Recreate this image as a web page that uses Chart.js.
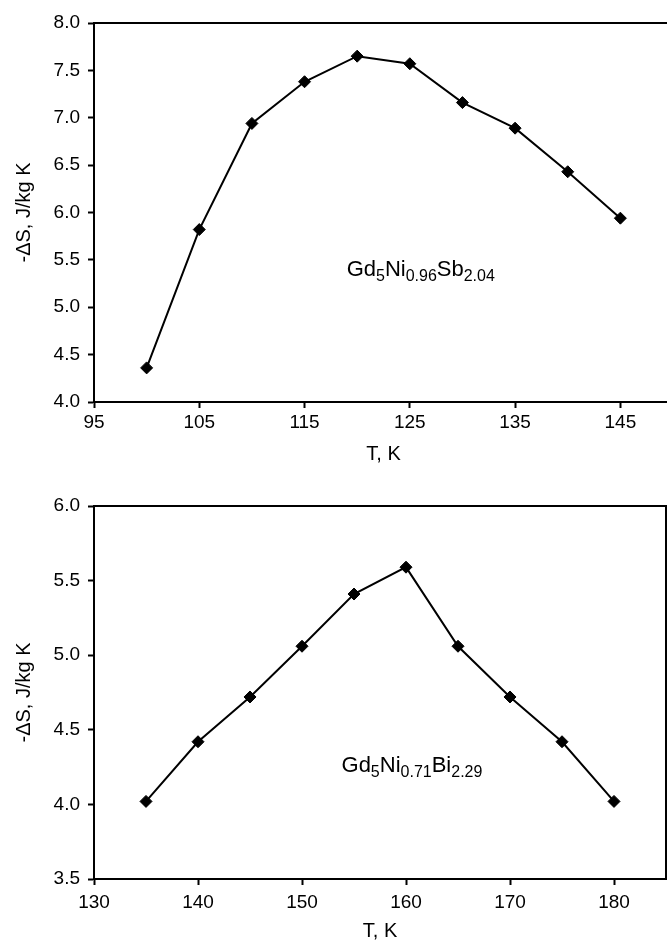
<!DOCTYPE html>
<html>
<head>
<meta charset="utf-8">
<script src="https://cdn.jsdelivr.net/npm/chart.js@4.4.1/dist/chart.umd.min.js"></script>
<style>
    html, body {margin: 0; padding: 0; background: #fff; overflow: hidden;}
    .box {width: 667px; overflow: hidden; position: relative;}
    canvas {display: block;}
</style>
</head>
<body>
<div class="box" style="height: 470px;"><canvas id="chartSb" width="674" height="470"></canvas></div>
<div class="box" style="height: 473px;"><canvas id="chartBi" width="667" height="473"></canvas></div>
<script>
// Gd5Ni0.96Sb2.04
const tempSb = [100, 105, 110, 115, 120, 125, 130, 135, 140, 145];
const entropySb = [4.36, 5.82, 6.94, 7.38, 7.65, 7.57, 7.16, 6.89, 6.43, 5.94];
const xTicksSb = [95, 105, 115, 125, 135, 145];
const labelSb = [['Gd', false], ['5', true], ['Ni', false], ['0.96', true], ['Sb', false], ['2.04', true]];

// Gd5Ni0.71Bi2.29
const tempBi = [135, 140, 145, 150, 155, 160, 165, 170, 175, 180];
const entropyBi = [4.02, 4.42, 4.72, 5.06, 5.41, 5.59, 5.06, 4.72, 4.42, 4.02];
const xTicksBi = [130, 140, 150, 160, 170, 180];
const labelBi = [['Gd', false], ['5', true], ['Ni', false], ['0.71', true], ['Bi', false], ['2.29', true]];

const FONT = '"Liberation Sans", Arial, Helvetica, sans-serif';

// box line on top and right of plot area
const frame = {
    id: 'frame',
    afterDraw(chart) {
        const a = chart.chartArea, c = chart.ctx;
        c.save();
        c.strokeStyle = '#000';
        c.lineWidth = 2;
        c.beginPath();
        c.moveTo(a.left, a.top);
        c.lineTo(a.right, a.top);
        c.lineTo(a.right, a.bottom);
        c.stroke();
        c.restore();
    }
};

// formula text with subscripts, placed in data units
const formula = {
    id: 'formula',
    afterDraw(chart, args, opts) {
        const c = chart.ctx;
        let x = chart.scales.x.getPixelForValue(opts.x);
        const y = chart.scales.y.getPixelForValue(opts.y);
        c.save();
        c.fillStyle = '#000';
        c.textBaseline = 'alphabetic';
        c.textAlign = 'left';
        opts.parts.forEach(function (p) {
            c.font = (p[1] ? '16px ' : '22px ') + FONT;
            c.fillText(p[0], x, p[1] ? y + 5 : y);
            x += c.measureText(p[0]).width;
        });
        c.restore();
    }
};

function makeChart(id, temps, vals, ticks, cfg) {
    const pts = temps.map(function (t, i) { return {x: t, y: vals[i]}; });
    return new Chart(document.getElementById(id), {
        type: 'line',
        data: {
            datasets: [{
                data: pts,
                borderColor: '#000',
                backgroundColor: '#000',
                borderWidth: 2,
                pointStyle: 'rectRot',
                pointRadius: 6,
                pointBorderWidth: 1,
                pointBackgroundColor: '#000',
                pointBorderColor: '#000',
                tension: 0
            }]
        },
        options: {
            responsive: false,
            animation: false,
            layout: {autoPadding: false, padding: {top: cfg.padTop, right: 1, left: 0, bottom: 0}},
            plugins: {
                legend: {display: false},
                tooltip: {enabled: false},
                formula: {x: cfg.labelX, y: cfg.labelY, parts: cfg.parts}
            },
            scales: {
                x: {
                    type: 'linear',
                    min: cfg.xMin,
                    max: cfg.xMax,
                    afterBuildTicks: function (s) { s.ticks = ticks.map(function (v) { return {value: v}; }); },
                    afterFit: function (s) {
                        s.height = cfg.xHeight;
                        s.paddingLeft = 0;
                        s.paddingRight = 0;
                    },
                    grid: {display: true, drawOnChartArea: false, color: '#000', tickLength: 6, tickWidth: 2},
                    border: {display: true, color: '#000', width: 2},
                    ticks: {color: '#000', font: {family: FONT, size: 19}, padding: cfg.xPad, maxRotation: 0},
                    title: {display: true, text: 'T, K', color: '#000', font: {family: FONT, size: 20, lineHeight: 1}, padding: {top: 0, bottom: cfg.titlePad}}
                },
                y: {
                    min: cfg.yMin,
                    max: cfg.yMax,
                    afterFit: function (s) {
                        s.width = 94;
                        s.paddingTop = 0;
                        s.paddingBottom = 0;
                    },
                    grid: {display: true, drawOnChartArea: false, color: '#000', tickLength: 6, tickWidth: 2},
                    border: {display: true, color: '#000', width: 2},
                    ticks: {
                        stepSize: 0.5, color: '#000', font: {family: FONT, size: 19}, padding: 8,
                        callback: function (v) { return v.toFixed(1); }
                    },
                    title: {display: true, text: '-ΔS, J/kg K', color: '#000', font: {family: FONT, size: 20, lineHeight: 1}, padding: {top: 14, bottom: 0}}
                }
            }
        },
        plugins: [frame, formula]
    });
}

makeChart('chartSb', tempSb, entropySb, xTicksSb, {
    xMin: 95, xMax: 150, yMin: 4, yMax: 8, padTop: 23, xHeight: 68, xPad: 3, titlePad: 6,
    labelX: 119, labelY: 5.33, parts: labelSb
});

makeChart('chartBi', tempBi, entropyBi, xTicksBi, {
    xMin: 130, xMax: 185, yMin: 3.5, yMax: 6, padTop: 36, xHeight: 64, xPad: 6, titlePad: 2,
    labelX: 153.8, labelY: 4.22, parts: labelBi
});
</script>
</body>
</html>
